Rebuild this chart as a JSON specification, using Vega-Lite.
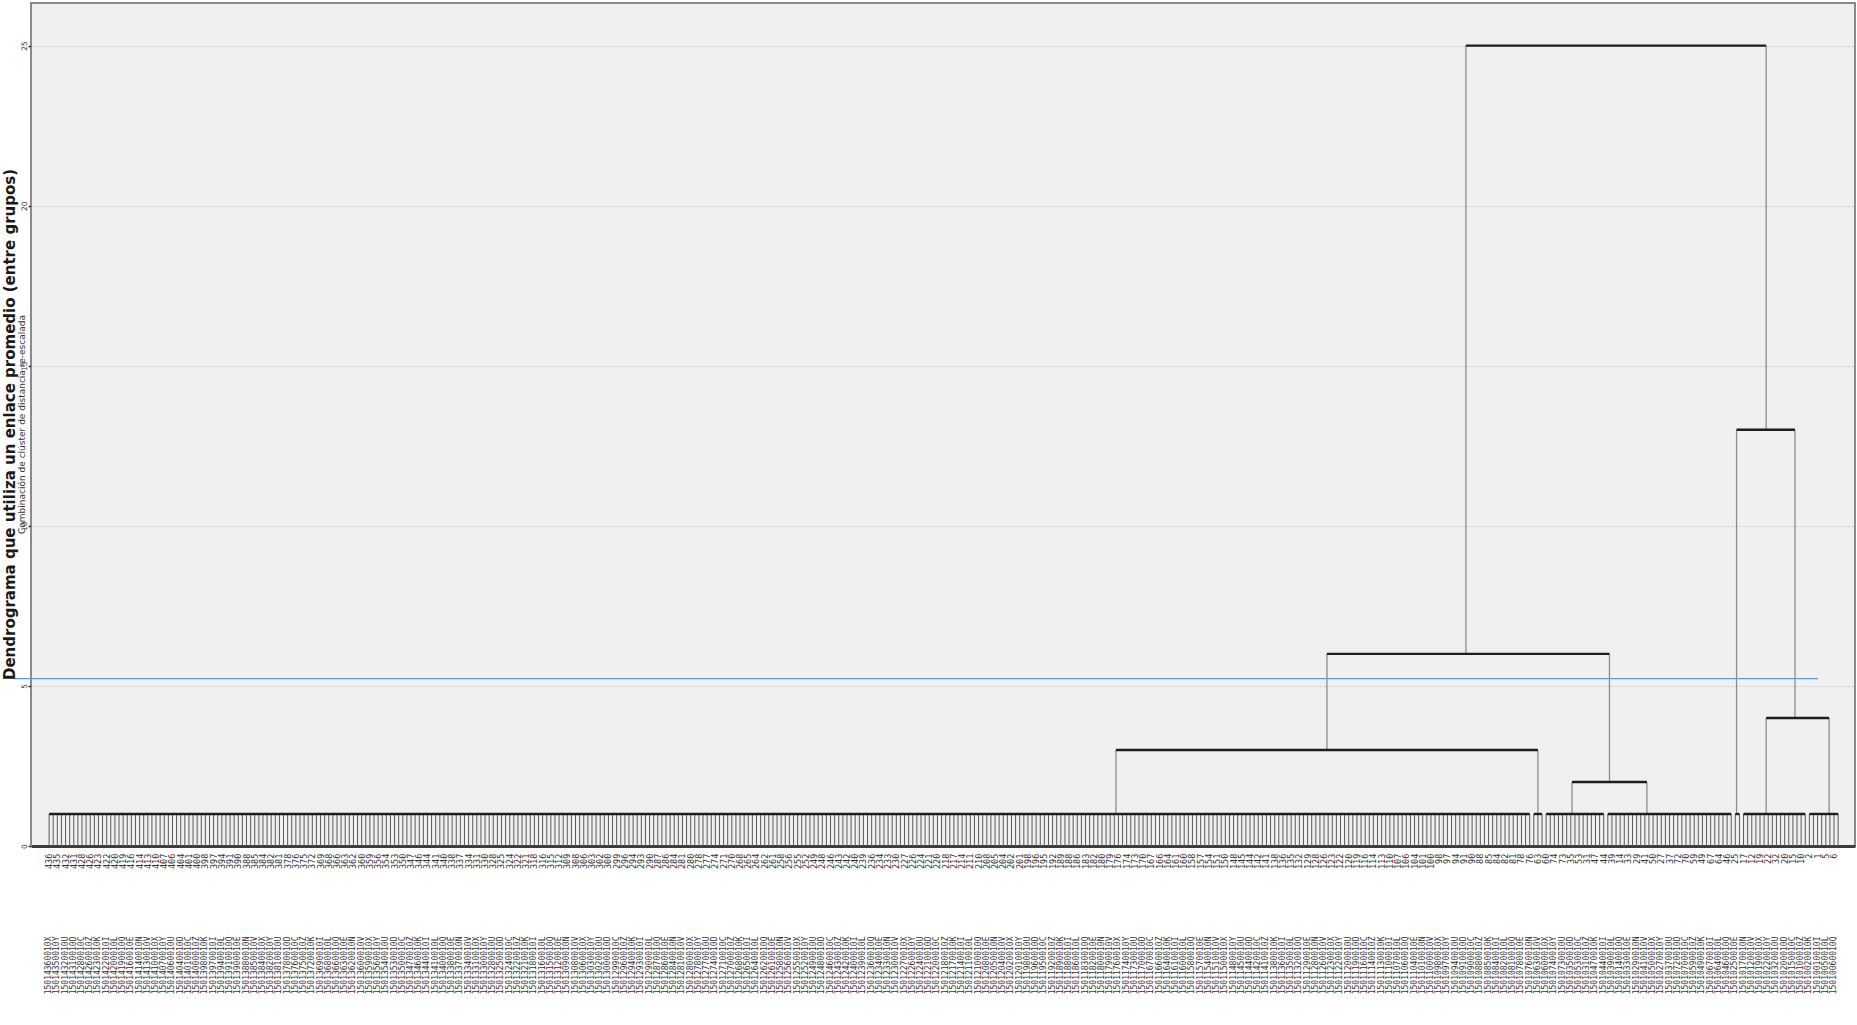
{
"$schema": "https://vega.github.io/schema/vega-lite/v6.json",
"width": 1824,
"height": 843,
"autosize": {"type": "none"},
"padding": {"left": 31, "top": 3, "right": 2, "bottom": 179},
"background": "#ffffff",
"title": {"text": "Dendrograma que utiliza un enlace promedio (entre grupos)", "subtitle": "Combinación de clúster de distancia re-escalada", "orient": "left", "anchor": "middle", "frame": "group", "offset": -14, "font": "DejaVu Sans", "fontSize": 15, "fontWeight": "bold", "color": "#1a1a1a", "subtitleFont": "DejaVu Sans", "subtitleFontSize": 9, "subtitleColor": "#333333", "subtitlePadding": 0},
"config": {
 "view": {"fill": "#f0f0f0", "stroke": "#666666", "strokeWidth": 1.5},
 "axisX": {"domain": true, "domainWidth": 3, "domainColor": "#3c3c3c", "labels": false, "ticks": false, "grid": false},
 "axisY": {"grid": true, "gridColor": "#c4c4c4", "gridDash": [2, 2], "gridWidth": 1, "domainColor": "#8a8a8a", "tickColor": "#333333", "tickSize": 3, "tickWidth": 1.5, "labelFontSize": 7.5, "labelFont": "DejaVu Sans", "labelColor": "#333333", "labelAngle": 270, "labelAlign": "center", "labelBaseline": "bottom", "labelPadding": 0}
},
"datasets": {
 "bars": [{"h":1,"a":0,"b":360},{"h":1,"a":361,"b":363},{"h":1,"a":364,"b":378},{"h":1,"a":379,"b":409},{"h":1,"a":410,"b":411},{"h":1,"a":412,"b":427},{"h":1,"a":428,"b":435},{"h":3,"a":259.4,"b":362},{"h":2,"a":370.3,"b":388.5},{"h":6,"a":310.7,"b":379.4},{"h":4,"a":417.5,"b":432.8},{"h":13,"a":410.3,"b":424.5},{"h":25,"a":344.5,"b":417.5}],
 "links": [{"x":259.4,"lo":1,"hi":3},{"x":362,"lo":1,"hi":3},{"x":310.7,"lo":3,"hi":6},{"x":370.3,"lo":1,"hi":2},{"x":388.5,"lo":1,"hi":2},{"x":379.4,"lo":2,"hi":6},{"x":344.5,"lo":6,"hi":25},{"x":410.3,"lo":1,"hi":13},{"x":417.5,"lo":1,"hi":4},{"x":432.8,"lo":1,"hi":4},{"x":424.5,"lo":4,"hi":13},{"x":417.5,"lo":13,"hi":25}],
 "cut": [{"h":5.23,"a":-8.7,"b":430.1}],
 "leaves": [
{"o":0,"c":436,"n":"15014360010X"},{"o":1,"c":434,"n":"15014340010I"},{"o":2,"c":435,"n":"15014350010Y"},{"o":3,"c":433,"n":"15014330010L"},{"o":4,"c":432,"n":"15014320010U"},{"o":5,"c":430,"n":"15014300010Q"},{"o":6,"c":431,"n":"15014310010D"},{"o":7,"c":429,"n":"15014290010E"},{"o":8,"c":428,"n":"15014280010C"},{"o":9,"c":427,"n":"15014270010N"},
{"o":10,"c":426,"n":"15014260010Z"},{"o":11,"c":425,"n":"15014250010V"},{"o":12,"c":423,"n":"15014230010K"},{"o":13,"c":424,"n":"15014240010X"},{"o":14,"c":422,"n":"15014220010I"},{"o":15,"c":421,"n":"15014210010Y"},{"o":16,"c":420,"n":"15014200010L"},{"o":17,"c":418,"n":"15014180010U"},{"o":18,"c":419,"n":"15014190010Q"},{"o":19,"c":417,"n":"15014170010D"},
{"o":20,"c":416,"n":"15014160010E"},{"o":21,"c":415,"n":"15014150010C"},{"o":22,"c":414,"n":"15014140010N"},{"o":23,"c":412,"n":"15014120010Z"},{"o":24,"c":413,"n":"15014130010V"},{"o":25,"c":411,"n":"15014110010K"},{"o":26,"c":410,"n":"15014100010X"},{"o":27,"c":409,"n":"15014090010I"},{"o":28,"c":407,"n":"15014070010Y"},{"o":29,"c":408,"n":"15014080010L"},
{"o":30,"c":406,"n":"15014060010U"},{"o":31,"c":405,"n":"15014050010Q"},{"o":32,"c":404,"n":"15014040010D"},{"o":33,"c":403,"n":"15014030010E"},{"o":34,"c":401,"n":"15014010010C"},{"o":35,"c":402,"n":"15014020010N"},{"o":36,"c":400,"n":"15014000010Z"},{"o":37,"c":399,"n":"15013990010V"},{"o":38,"c":398,"n":"15013980010K"},{"o":39,"c":396,"n":"15013960010X"},
{"o":40,"c":397,"n":"15013970010I"},{"o":41,"c":395,"n":"15013950010Y"},{"o":42,"c":394,"n":"15013940010L"},{"o":43,"c":393,"n":"15013930010U"},{"o":44,"c":391,"n":"15013910010Q"},{"o":45,"c":392,"n":"15013920010D"},{"o":46,"c":390,"n":"15013900010E"},{"o":47,"c":389,"n":"15013890010C"},{"o":48,"c":388,"n":"15013880010N"},{"o":49,"c":387,"n":"15013870010Z"},
{"o":50,"c":385,"n":"15013850010V"},{"o":51,"c":386,"n":"15013860010K"},{"o":52,"c":384,"n":"15013840010X"},{"o":53,"c":383,"n":"15013830010I"},{"o":54,"c":382,"n":"15013820010Y"},{"o":55,"c":380,"n":"15013800010L"},{"o":56,"c":381,"n":"15013810010U"},{"o":57,"c":379,"n":"15013790010Q"},{"o":58,"c":378,"n":"15013780010D"},{"o":59,"c":377,"n":"15013770010E"},
{"o":60,"c":376,"n":"15013760010C"},{"o":61,"c":374,"n":"15013740010N"},{"o":62,"c":375,"n":"15013750010Z"},{"o":63,"c":373,"n":"15013730010V"},{"o":64,"c":372,"n":"15013720010K"},{"o":65,"c":371,"n":"15013710010X"},{"o":66,"c":369,"n":"15013690010I"},{"o":67,"c":370,"n":"15013700010Y"},{"o":68,"c":368,"n":"15013680010L"},{"o":69,"c":367,"n":"15013670010U"},
{"o":70,"c":366,"n":"15013660010Q"},{"o":71,"c":365,"n":"15013650010D"},{"o":72,"c":363,"n":"15013630010E"},{"o":73,"c":364,"n":"15013640010C"},{"o":74,"c":362,"n":"15013620010N"},{"o":75,"c":361,"n":"15013610010Z"},{"o":76,"c":360,"n":"15013600010V"},{"o":77,"c":358,"n":"15013580010K"},{"o":78,"c":359,"n":"15013590010X"},{"o":79,"c":357,"n":"15013570010I"},
{"o":80,"c":356,"n":"15013560010Y"},{"o":81,"c":355,"n":"15013550010L"},{"o":82,"c":354,"n":"15013540010U"},{"o":83,"c":352,"n":"15013520010Q"},{"o":84,"c":353,"n":"15013530010D"},{"o":85,"c":351,"n":"15013510010E"},{"o":86,"c":350,"n":"15013500010C"},{"o":87,"c":349,"n":"15013490010N"},{"o":88,"c":347,"n":"15013470010Z"},{"o":89,"c":348,"n":"15013480010V"},
{"o":90,"c":346,"n":"15013460010K"},{"o":91,"c":345,"n":"15013450010X"},{"o":92,"c":344,"n":"15013440010I"},{"o":93,"c":343,"n":"15013430010Y"},{"o":94,"c":341,"n":"15013410010L"},{"o":95,"c":342,"n":"15013420010U"},{"o":96,"c":340,"n":"15013400010Q"},{"o":97,"c":339,"n":"15013390010D"},{"o":98,"c":338,"n":"15013380010E"},{"o":99,"c":336,"n":"15013360010C"},
{"o":100,"c":337,"n":"15013370010N"},{"o":101,"c":335,"n":"15013350010Z"},{"o":102,"c":334,"n":"15013340010V"},{"o":103,"c":333,"n":"15013330010K"},{"o":104,"c":331,"n":"15013310010X"},{"o":105,"c":332,"n":"15013320010I"},{"o":106,"c":330,"n":"15013300010Y"},{"o":107,"c":329,"n":"15013290010L"},{"o":108,"c":328,"n":"15013280010U"},{"o":109,"c":327,"n":"15013270010Q"},
{"o":110,"c":325,"n":"15013250010D"},{"o":111,"c":326,"n":"15013260010E"},{"o":112,"c":324,"n":"15013240010C"},{"o":113,"c":323,"n":"15013230010N"},{"o":114,"c":322,"n":"15013220010Z"},{"o":115,"c":320,"n":"15013200010V"},{"o":116,"c":321,"n":"15013210010K"},{"o":117,"c":319,"n":"15013190010X"},{"o":118,"c":318,"n":"15013180010I"},{"o":119,"c":317,"n":"15013170010Y"},
{"o":120,"c":316,"n":"15013160010L"},{"o":121,"c":314,"n":"15013140010U"},{"o":122,"c":315,"n":"15013150010Q"},{"o":123,"c":313,"n":"15013130010D"},{"o":124,"c":312,"n":"15013120010E"},{"o":125,"c":311,"n":"15013110010C"},{"o":126,"c":309,"n":"15013090010N"},{"o":127,"c":310,"n":"15013100010Z"},{"o":128,"c":308,"n":"15013080010V"},{"o":129,"c":307,"n":"15013070010K"},
{"o":130,"c":306,"n":"15013060010X"},{"o":131,"c":305,"n":"15013050010I"},{"o":132,"c":303,"n":"15013030010Y"},{"o":133,"c":304,"n":"15013040010L"},{"o":134,"c":302,"n":"15013020010U"},{"o":135,"c":301,"n":"15013010010Q"},{"o":136,"c":300,"n":"15013000010D"},{"o":137,"c":298,"n":"15012980010E"},{"o":138,"c":299,"n":"15012990010C"},{"o":139,"c":297,"n":"15012970010N"},
{"o":140,"c":296,"n":"15012960010Z"},{"o":141,"c":295,"n":"15012950010V"},{"o":142,"c":294,"n":"15012940010K"},{"o":143,"c":292,"n":"15012920010X"},{"o":144,"c":293,"n":"15012930010I"},{"o":145,"c":291,"n":"15012910010Y"},{"o":146,"c":290,"n":"15012900010L"},{"o":147,"c":289,"n":"15012890010U"},{"o":148,"c":287,"n":"15012870010Q"},{"o":149,"c":288,"n":"15012880010D"},
{"o":150,"c":286,"n":"15012860010E"},{"o":151,"c":285,"n":"15012850010C"},{"o":152,"c":284,"n":"15012840010N"},{"o":153,"c":283,"n":"15012830010Z"},{"o":154,"c":281,"n":"15012810010V"},{"o":155,"c":282,"n":"15012820010K"},{"o":156,"c":280,"n":"15012800010X"},{"o":157,"c":279,"n":"15012790010I"},{"o":158,"c":278,"n":"15012780010Y"},{"o":159,"c":276,"n":"15012760010L"},
{"o":160,"c":277,"n":"15012770010U"},{"o":161,"c":275,"n":"15012750010Q"},{"o":162,"c":274,"n":"15012740010D"},{"o":163,"c":273,"n":"15012730010E"},{"o":164,"c":271,"n":"15012710010C"},{"o":165,"c":272,"n":"15012720010N"},{"o":166,"c":270,"n":"15012700010Z"},{"o":167,"c":269,"n":"15012690010V"},{"o":168,"c":268,"n":"15012680010K"},{"o":169,"c":267,"n":"15012670010X"},
{"o":170,"c":265,"n":"15012650010I"},{"o":171,"c":266,"n":"15012660010Y"},{"o":172,"c":264,"n":"15012640010L"},{"o":173,"c":263,"n":"15012630010U"},{"o":174,"c":262,"n":"15012620010Q"},{"o":175,"c":260,"n":"15012600010D"},{"o":176,"c":261,"n":"15012610010E"},{"o":177,"c":259,"n":"15012590010C"},{"o":178,"c":258,"n":"15012580010N"},{"o":179,"c":257,"n":"15012570010Z"},
{"o":180,"c":256,"n":"15012560010V"},{"o":181,"c":254,"n":"15012540010K"},{"o":182,"c":255,"n":"15012550010X"},{"o":183,"c":253,"n":"15012530010I"},{"o":184,"c":252,"n":"15012520010Y"},{"o":185,"c":251,"n":"15012510010L"},{"o":186,"c":249,"n":"15012490010U"},{"o":187,"c":250,"n":"15012500010Q"},{"o":188,"c":248,"n":"15012480010D"},{"o":189,"c":247,"n":"15012470010E"},
{"o":190,"c":246,"n":"15012460010C"},{"o":191,"c":245,"n":"15012450010N"},{"o":192,"c":243,"n":"15012430010Z"},{"o":193,"c":244,"n":"15012440010V"},{"o":194,"c":242,"n":"15012420010K"},{"o":195,"c":241,"n":"15012410010X"},{"o":196,"c":240,"n":"15012400010I"},{"o":197,"c":238,"n":"15012380010Y"},{"o":198,"c":239,"n":"15012390010L"},{"o":199,"c":237,"n":"15012370010U"},
{"o":200,"c":236,"n":"15012360010Q"},{"o":201,"c":235,"n":"15012350010D"},{"o":202,"c":234,"n":"15012340010E"},{"o":203,"c":232,"n":"15012320010C"},{"o":204,"c":233,"n":"15012330010N"},{"o":205,"c":231,"n":"15012310010Z"},{"o":206,"c":230,"n":"15012300010V"},{"o":207,"c":229,"n":"15012290010K"},{"o":208,"c":227,"n":"15012270010X"},{"o":209,"c":228,"n":"15012280010I"},
{"o":210,"c":226,"n":"15012260010Y"},{"o":211,"c":225,"n":"15012250010L"},{"o":212,"c":224,"n":"15012240010U"},{"o":213,"c":223,"n":"15012230010Q"},{"o":214,"c":221,"n":"15012210010D"},{"o":215,"c":222,"n":"15012220010E"},{"o":216,"c":220,"n":"15012200010C"},{"o":217,"c":219,"n":"15012190010N"},{"o":218,"c":218,"n":"15012180010Z"},{"o":219,"c":216,"n":"15012160010V"},
{"o":220,"c":217,"n":"15012170010K"},{"o":221,"c":215,"n":"15012150010X"},{"o":222,"c":214,"n":"15012140010I"},{"o":223,"c":213,"n":"15012130010Y"},{"o":224,"c":211,"n":"15012110010L"},{"o":225,"c":212,"n":"15012120010U"},{"o":226,"c":210,"n":"15012100010Q"},{"o":227,"c":209,"n":"15012090010D"},{"o":228,"c":208,"n":"15012080010E"},{"o":229,"c":207,"n":"15012070010C"},
{"o":230,"c":205,"n":"15012050010N"},{"o":231,"c":206,"n":"15012060010Z"},{"o":232,"c":204,"n":"15012040010V"},{"o":233,"c":203,"n":"15012030010K"},{"o":234,"c":202,"n":"15012020010X"},{"o":235,"c":200,"n":"15012000010I"},{"o":236,"c":201,"n":"15012010010Y"},{"o":237,"c":199,"n":"15011990010L"},{"o":238,"c":198,"n":"15011980010U"},{"o":239,"c":197,"n":"15011970010Q"},
{"o":240,"c":196,"n":"15011960010D"},{"o":241,"c":194,"n":"15011940010E"},{"o":242,"c":195,"n":"15011950010C"},{"o":243,"c":193,"n":"15011930010N"},{"o":244,"c":192,"n":"15011920010Z"},{"o":245,"c":191,"n":"15011910010V"},{"o":246,"c":189,"n":"15011890010K"},{"o":247,"c":190,"n":"15011900010X"},{"o":248,"c":188,"n":"15011880010I"},{"o":249,"c":187,"n":"15011870010Y"},
{"o":250,"c":186,"n":"15011860010L"},{"o":251,"c":185,"n":"15011850010U"},{"o":252,"c":183,"n":"15011830010Q"},{"o":253,"c":184,"n":"15011840010D"},{"o":254,"c":182,"n":"15011820010E"},{"o":255,"c":181,"n":"15011810010C"},{"o":256,"c":180,"n":"15011800010N"},{"o":257,"c":178,"n":"15011780010Z"},{"o":258,"c":179,"n":"15011790010V"},{"o":259,"c":177,"n":"15011770010K"},
{"o":260,"c":176,"n":"15011760010X"},{"o":261,"c":175,"n":"15011750010I"},{"o":262,"c":174,"n":"15011740010Y"},{"o":263,"c":172,"n":"15011720010L"},{"o":264,"c":173,"n":"15011730010U"},{"o":265,"c":171,"n":"15011710010Q"},{"o":266,"c":170,"n":"15011700010D"},{"o":267,"c":169,"n":"15011690010E"},{"o":268,"c":167,"n":"15011670010C"},{"o":269,"c":168,"n":"15011680010N"},
{"o":270,"c":166,"n":"15011660010Z"},{"o":271,"c":165,"n":"15011650010V"},{"o":272,"c":164,"n":"15011640010K"},{"o":273,"c":163,"n":"15011630010X"},{"o":274,"c":161,"n":"15011610010I"},{"o":275,"c":162,"n":"15011620010Y"},{"o":276,"c":160,"n":"15011600010L"},{"o":277,"c":159,"n":"15011590010U"},{"o":278,"c":158,"n":"15011580010Q"},{"o":279,"c":156,"n":"15011560010D"},
{"o":280,"c":157,"n":"15011570010E"},{"o":281,"c":155,"n":"15011550010C"},{"o":282,"c":154,"n":"15011540010N"},{"o":283,"c":153,"n":"15011530010Z"},{"o":284,"c":151,"n":"15011510010V"},{"o":285,"c":152,"n":"15011520010K"},{"o":286,"c":150,"n":"15011500010X"},{"o":287,"c":149,"n":"15011490010I"},{"o":288,"c":148,"n":"15011480010Y"},{"o":289,"c":147,"n":"15011470010L"},
{"o":290,"c":145,"n":"15011450010U"},{"o":291,"c":146,"n":"15011460010Q"},{"o":292,"c":144,"n":"15011440010D"},{"o":293,"c":143,"n":"15011430010E"},{"o":294,"c":142,"n":"15011420010C"},{"o":295,"c":140,"n":"15011400010N"},{"o":296,"c":141,"n":"15011410010Z"},{"o":297,"c":139,"n":"15011390010V"},{"o":298,"c":138,"n":"15011380010K"},{"o":299,"c":137,"n":"15011370010X"},
{"o":300,"c":136,"n":"15011360010I"},{"o":301,"c":134,"n":"15011340010Y"},{"o":302,"c":135,"n":"15011350010L"},{"o":303,"c":133,"n":"15011330010U"},{"o":304,"c":132,"n":"15011320010Q"},{"o":305,"c":131,"n":"15011310010D"},{"o":306,"c":129,"n":"15011290010E"},{"o":307,"c":130,"n":"15011300010C"},{"o":308,"c":128,"n":"15011280010N"},{"o":309,"c":127,"n":"15011270010Z"},
{"o":310,"c":126,"n":"15011260010V"},{"o":311,"c":125,"n":"15011250010K"},{"o":312,"c":123,"n":"15011230010X"},{"o":313,"c":124,"n":"15011240010I"},{"o":314,"c":122,"n":"15011220010Y"},{"o":315,"c":121,"n":"15011210010L"},{"o":316,"c":120,"n":"15011200010U"},{"o":317,"c":118,"n":"15011180010Q"},{"o":318,"c":119,"n":"15011190010D"},{"o":319,"c":117,"n":"15011170010E"},
{"o":320,"c":116,"n":"15011160010C"},{"o":321,"c":115,"n":"15011150010N"},{"o":322,"c":114,"n":"15011140010Z"},{"o":323,"c":112,"n":"15011120010V"},{"o":324,"c":113,"n":"15011130010K"},{"o":325,"c":111,"n":"15011110010X"},{"o":326,"c":110,"n":"15011100010I"},{"o":327,"c":109,"n":"15011090010Y"},{"o":328,"c":107,"n":"15011070010L"},{"o":329,"c":108,"n":"15011080010U"},
{"o":330,"c":106,"n":"15011060010Q"},{"o":331,"c":105,"n":"15011050010D"},{"o":332,"c":104,"n":"15011040010E"},{"o":333,"c":103,"n":"15011030010C"},{"o":334,"c":101,"n":"15011010010N"},{"o":335,"c":102,"n":"15011020010Z"},{"o":336,"c":100,"n":"15011000010V"},{"o":337,"c":99,"n":"15010990010K"},{"o":338,"c":98,"n":"15010980010X"},{"o":339,"c":96,"n":"15010960010I"},
{"o":340,"c":97,"n":"15010970010Y"},{"o":341,"c":95,"n":"15010950010L"},{"o":342,"c":94,"n":"15010940010U"},{"o":343,"c":93,"n":"15010930010Q"},{"o":344,"c":91,"n":"15010910010D"},{"o":345,"c":92,"n":"15010920010E"},{"o":346,"c":90,"n":"15010900010C"},{"o":347,"c":89,"n":"15010890010N"},{"o":348,"c":88,"n":"15010880010Z"},{"o":349,"c":87,"n":"15010870010V"},
{"o":350,"c":85,"n":"15010850010K"},{"o":351,"c":86,"n":"15010860010X"},{"o":352,"c":84,"n":"15010840010I"},{"o":353,"c":83,"n":"15010830010Y"},{"o":354,"c":82,"n":"15010820010L"},{"o":355,"c":80,"n":"15010800010U"},{"o":356,"c":81,"n":"15010810010Q"},{"o":357,"c":79,"n":"15010790010D"},{"o":358,"c":78,"n":"15010780010E"},{"o":359,"c":77,"n":"15010770010C"},
{"o":360,"c":76,"n":"15010760010N"},{"o":361,"c":4,"n":"15010040010Z"},{"o":362,"c":63,"n":"15010630010V"},{"o":363,"c":58,"n":"15010580010K"},{"o":364,"c":60,"n":"15010600010X"},{"o":365,"c":66,"n":"15010660010I"},{"o":366,"c":74,"n":"15010740010Y"},{"o":367,"c":71,"n":"15010710010L"},{"o":368,"c":73,"n":"15010730010U"},{"o":369,"c":38,"n":"15010380010Q"},
{"o":370,"c":35,"n":"15010350010D"},{"o":371,"c":54,"n":"15010540010E"},{"o":372,"c":53,"n":"15010530010C"},{"o":373,"c":26,"n":"15010260010N"},{"o":374,"c":31,"n":"15010310010Z"},{"o":375,"c":69,"n":"15010690010V"},{"o":376,"c":47,"n":"15010470010K"},{"o":377,"c":43,"n":"15010430010X"},{"o":378,"c":44,"n":"15010440010I"},{"o":379,"c":65,"n":"15010650010Y"},
{"o":380,"c":39,"n":"15010390010L"},{"o":381,"c":61,"n":"15010610010U"},{"o":382,"c":14,"n":"15010140010Q"},{"o":383,"c":45,"n":"15010450010D"},{"o":384,"c":33,"n":"15010330010E"},{"o":385,"c":52,"n":"15010520010C"},{"o":386,"c":29,"n":"15010290010N"},{"o":387,"c":28,"n":"15010280010Z"},{"o":388,"c":41,"n":"15010410010V"},{"o":389,"c":30,"n":"15010300010K"},
{"o":390,"c":50,"n":"15010500010X"},{"o":391,"c":36,"n":"15010360010I"},{"o":392,"c":27,"n":"15010270010Y"},{"o":393,"c":42,"n":"15010420010L"},{"o":394,"c":37,"n":"15010370010U"},{"o":395,"c":75,"n":"15010750010Q"},{"o":396,"c":72,"n":"15010720010D"},{"o":397,"c":68,"n":"15010680010E"},{"o":398,"c":70,"n":"15010700010C"},{"o":399,"c":57,"n":"15010570010N"},
{"o":400,"c":59,"n":"15010590010Z"},{"o":401,"c":55,"n":"15010550010V"},{"o":402,"c":49,"n":"15010490010K"},{"o":403,"c":48,"n":"15010480010X"},{"o":404,"c":67,"n":"15010670010I"},{"o":405,"c":62,"n":"15010620010Y"},{"o":406,"c":64,"n":"15010640010L"},{"o":407,"c":40,"n":"15010400010U"},{"o":408,"c":46,"n":"15010460010Q"},{"o":409,"c":34,"n":"15010340010D"},
{"o":410,"c":25,"n":"15010250010E"},{"o":411,"c":51,"n":"15010510010C"},{"o":412,"c":17,"n":"15010170010N"},{"o":413,"c":13,"n":"15010130010Z"},{"o":414,"c":12,"n":"15010120010V"},{"o":415,"c":24,"n":"15010240010K"},{"o":416,"c":19,"n":"15010190010X"},{"o":417,"c":21,"n":"15010210010I"},{"o":418,"c":22,"n":"15010220010Y"},{"o":419,"c":16,"n":"15010160010L"},
{"o":420,"c":32,"n":"15010320010U"},{"o":421,"c":23,"n":"15010230010Q"},{"o":422,"c":20,"n":"15010200010D"},{"o":423,"c":18,"n":"15010180010E"},{"o":424,"c":15,"n":"15010150010C"},{"o":425,"c":11,"n":"15010110010N"},{"o":426,"c":10,"n":"15010100010Z"},{"o":427,"c":56,"n":"15010560010V"},{"o":428,"c":2,"n":"15010020010K"},{"o":429,"c":9,"n":"15010090010X"},
{"o":430,"c":1,"n":"15010010010I"},{"o":431,"c":3,"n":"15010030010Y"},{"o":432,"c":5,"n":"15010050010L"},{"o":433,"c":7,"n":"15010070010U"},{"o":434,"c":6,"n":"15010060010Q"},{"o":435,"c":8,"n":"15010080010D"}
 ]
},
"layer": [
 {
  "data": {"name": "leaves"},
  "mark": {"type": "rule", "color": "#5a5a5a", "strokeWidth": 1},
  "encoding": {
   "x": {"field": "o", "type": "quantitative", "title": null, "scale": {"domain": [-4.4, 439.1], "nice": false, "zero": false}},
   "y": {"datum": 0, "type": "quantitative", "title": null, "scale": {"domain": [0, 26.33], "nice": false, "zero": false}, "axis": {"values": [0, 5, 10, 15, 20, 25], "title": null}},
   "y2": {"datum": 1}
  }
 },
 {
  "data": {"name": "links"},
  "mark": {"type": "rule", "color": "#8c8c8c", "strokeWidth": 1.3},
  "encoding": {
   "x": {"field": "x", "type": "quantitative", "title": null},
   "y": {"field": "lo", "type": "quantitative", "title": null},
   "y2": {"field": "hi"}
  }
 },
 {
  "data": {"name": "bars"},
  "mark": {"type": "rule", "color": "#1e1e1e", "strokeWidth": 2.4},
  "encoding": {
   "x": {"field": "a", "type": "quantitative", "title": null},
   "x2": {"field": "b"},
   "y": {"field": "h", "type": "quantitative", "title": null}
  }
 },
 {
  "data": {"name": "cut"},
  "mark": {"type": "rule", "color": "#5b9bd5", "strokeWidth": 1.3, "clip": false},
  "encoding": {
   "x": {"field": "a", "type": "quantitative", "title": null},
   "x2": {"field": "b"},
   "y": {"field": "h", "type": "quantitative", "title": null}
  }
 },
 {
  "data": {"name": "leaves"},
  "transform": [{"filter": "datum.o % 2 == 0"}],
  "mark": {"type": "text", "angle": 270, "align": "right", "baseline": "middle", "font": "DejaVu Sans Mono", "fontSize": 8.5, "color": "#333333"},
  "encoding": {
   "x": {"field": "o", "type": "quantitative", "title": null},
   "y": {"datum": -0.24, "type": "quantitative", "title": null},
   "text": {"field": "c", "type": "nominal"}
  }
 },
 {
  "data": {"name": "leaves"},
  "transform": [{"filter": "datum.o % 2 == 0"}],
  "mark": {"type": "text", "angle": 270, "align": "center", "baseline": "middle", "font": "DejaVu Sans Mono", "fontSize": 8, "color": "#333333"},
  "encoding": {
   "x": {"field": "o", "type": "quantitative", "title": null},
   "y": {"datum": -3.73, "type": "quantitative", "title": null},
   "text": {"field": "n", "type": "nominal"}
  }
 }
]
}
